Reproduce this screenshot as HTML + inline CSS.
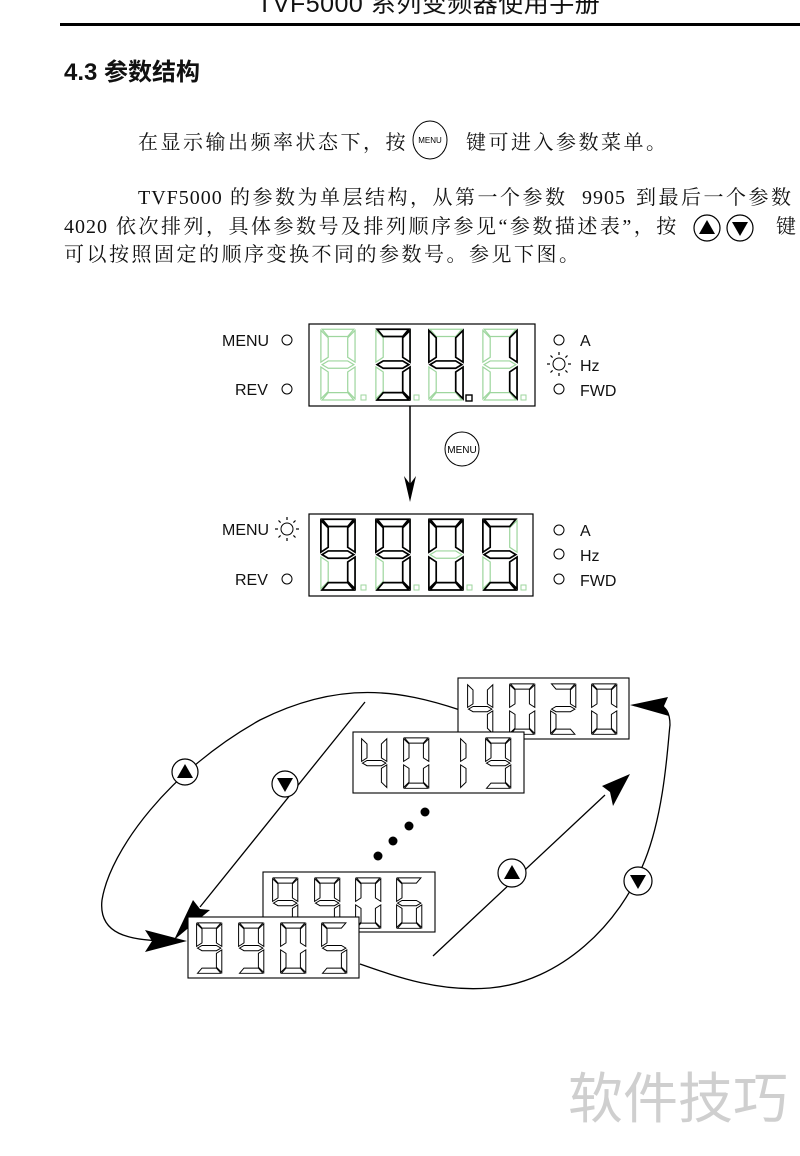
<!DOCTYPE html>
<html><head><meta charset="utf-8"><style>
html,body{margin:0;padding:0;background:#fff;}
body{width:800px;height:1156px;position:relative;overflow:hidden;font-family:"Liberation Serif","Noto Serif CJK SC",serif;color:#111;}
.t{position:absolute;white-space:nowrap;}
.p{font-size:20px;letter-spacing:2.5px;line-height:24px;}
</style></head><body>
<div class="t" style="left:257px;top:-16px;font-size:25px;letter-spacing:0.5px;font-family:'Liberation Sans','Noto Sans CJK SC',sans-serif;">TVF5000 系列变频器使用手册</div>
<div style="position:absolute;left:60px;top:23px;width:740px;height:3px;background:#000"></div>
<div class="t" style="left:64px;top:52px;font-size:24px;font-weight:bold;font-family:'Liberation Sans','Noto Sans CJK SC',sans-serif;">4.3 参数结构</div>

<div class="t p" style="left:138px;top:131px;">在显示输出频率状态下，按</div>
<div class="t p" style="left:466px;top:131px;">键可进入参数菜单。</div>

<div class="t p" style="left:138px;top:186px;letter-spacing:1px;">TVF5000</div>
<div class="t p" style="left:230px;top:186px;">的参数为单层结构，从第一个参数</div>
<div class="t p" style="left:582px;top:186px;letter-spacing:1px;">9905</div>
<div class="t p" style="left:636px;top:186px;">到最后一个参数</div>

<div class="t p" style="left:64px;top:215px;letter-spacing:1px;">4020</div>
<div class="t p" style="left:116px;top:215px;">依次排列，具体参数号及排列顺序参见“参数描述表”，按</div>
<div class="t p" style="left:776px;top:215px;">键</div>

<div class="t p" style="left:64px;top:243px;">可以按照固定的顺序变换不同的参数号。参见下图。</div>
<div class="t" style="left:568px;top:1054px;font-size:55px;color:#cfcfcf;font-family:'Liberation Sans','Noto Sans CJK SC',sans-serif;">软件技巧</div>

<svg width="800" height="1156" style="position:absolute;left:0;top:0" xmlns="http://www.w3.org/2000/svg">
<defs>
<polygon id="sa" points="5,1 31,1 26,7 10,7"/>
<polygon id="sb" points="32,2 32,28 29,26 26,24 26,8"/>
<polygon id="sf" points="4,2 10,8 10,24 4,28"/>
<polygon id="sg" points="5,30 10,27 26,27 31,30 26,33 10,33"/>
<polygon id="se" points="4,32 10,36 10,52 4,58"/>
<polygon id="sc" points="32,32 32,58 26,52 26,36"/>
<polygon id="sd" points="5,59 10,53 26,53 31,59"/>
<g id="d8"><use href="#sa"/><use href="#sb"/><use href="#sc"/><use href="#sd"/><use href="#se"/><use href="#sf"/><use href="#sg"/></g>
<g id="d9"><use href="#sa"/><use href="#sb"/><use href="#sc"/><use href="#sd"/><use href="#sf"/><use href="#sg"/></g>
<g id="d0"><use href="#sa"/><use href="#sb"/><use href="#sc"/><use href="#sd"/><use href="#se"/><use href="#sf"/></g>
<g id="d5"><use href="#sa"/><use href="#sf"/><use href="#sg"/><use href="#sc"/><use href="#sd"/></g>
<g id="d3"><use href="#sa"/><use href="#sb"/><use href="#sg"/><use href="#sc"/><use href="#sd"/></g>
<g id="d4"><use href="#sf"/><use href="#sg"/><use href="#sb"/><use href="#sc"/></g>
<g id="d1"><use href="#sb"/><use href="#sc"/></g>
<g id="d1l"><use href="#sf"/><use href="#se"/></g>
<g id="d2"><use href="#sa"/><use href="#sb"/><use href="#sg"/><use href="#se"/><use href="#sd"/></g>
<g id="d6"><use href="#sa"/><use href="#sf"/><use href="#sg"/><use href="#se"/><use href="#sc"/><use href="#sd"/></g>
<g id="sun"><circle r="6" fill="#fff" stroke="#000" stroke-width="1"/>
<g stroke="#000" stroke-width="1.2"><line x1="0" y1="-9" x2="0" y2="-12"/><line x1="0" y1="9" x2="0" y2="12"/><line x1="-9" y1="0" x2="-12" y2="0"/><line x1="9" y1="0" x2="12" y2="0"/><line x1="6.4" y1="6.4" x2="8.5" y2="8.5"/><line x1="-6.4" y1="6.4" x2="-8.5" y2="8.5"/><line x1="6.4" y1="-6.4" x2="8.5" y2="-8.5"/><line x1="-6.4" y1="-6.4" x2="-8.5" y2="-8.5"/></g></g>
</defs>

<!-- text MENU button -->
<ellipse cx="430" cy="140" rx="17" ry="19" fill="#fff" stroke="#000" stroke-width="1"/>
<text x="430" y="143" font-size="8" text-anchor="middle" font-family="Liberation Sans">MENU</text>
<circle cx="707" cy="228" r="13" fill="#fff" stroke="#000" stroke-width="1.2"/>
<polygon points="707,220 699,234 715,234" fill="#000"/>
<circle cx="740" cy="228" r="13" fill="#fff" stroke="#000" stroke-width="1.2"/>
<polygon points="740,236 732,222 748,222" fill="#000"/>

<g font-family="Liberation Sans" font-size="16" fill="#111">
<text x="222" y="346">MENU</text><circle cx="287" cy="340" r="5" fill="none" stroke="#000"/>
<text x="235" y="395">REV</text><circle cx="287" cy="389" r="5" fill="none" stroke="#000"/>
<circle cx="559" cy="340" r="5" fill="none" stroke="#000"/><text x="580" y="346">A</text>
<use href="#sun" x="559" y="364"/><text x="580" y="371">Hz</text>
<circle cx="559" cy="389" r="5" fill="none" stroke="#000"/><text x="580" y="396">FWD</text>
<text x="222" y="535">MENU</text><use href="#sun" x="287" y="529"/>
<text x="235" y="585">REV</text><circle cx="287" cy="579" r="5" fill="none" stroke="#000"/>
<circle cx="559" cy="530" r="5" fill="none" stroke="#000"/><text x="580" y="536">A</text>
<circle cx="559" cy="554" r="5" fill="none" stroke="#000"/><text x="580" y="561">Hz</text>
<circle cx="559" cy="579" r="5" fill="none" stroke="#000"/><text x="580" y="586">FWD</text>
</g>

<rect x="309" y="324" width="226" height="82" fill="#fff" stroke="#000" stroke-width="1.2"/>
<g fill="none" stroke="#9ed69e" stroke-width="1">
<use href="#d8" transform="translate(316,328) scale(1.22)"/>
<use href="#d8" transform="translate(371,328) scale(1.22)"/>
<use href="#d8" transform="translate(424,328) scale(1.22)"/>
<use href="#d8" transform="translate(478,328) scale(1.22)"/>
<rect x="361" y="395" width="5" height="5"/><rect x="414" y="395" width="5" height="5"/><rect x="521" y="395" width="5" height="5"/>
</g>
<g fill="#fff" stroke="#000" stroke-width="1.4">
<use href="#d3" transform="translate(371,328) scale(1.22)"/>
<use href="#d4" transform="translate(424,328) scale(1.22)"/>
<use href="#d1" transform="translate(478,328) scale(1.22)"/>
<rect x="466" y="395" width="6" height="6"/>
</g>

<line x1="410" y1="406" x2="410" y2="485" stroke="#000" stroke-width="1.5"/>
<polygon points="410,502 404,476 410,484 416,476" fill="#000"/>
<circle cx="462" cy="449" r="17" fill="#fff" stroke="#000" stroke-width="1"/>
<text x="462" y="453" font-size="10" text-anchor="middle" font-family="Liberation Sans">MENU</text>

<rect x="309" y="514" width="224" height="82" fill="#fff" stroke="#000" stroke-width="1.2"/>
<g fill="none" stroke="#9ed69e" stroke-width="1">
<use href="#d8" transform="translate(316,518) scale(1.22)"/>
<use href="#d8" transform="translate(371,518) scale(1.22)"/>
<use href="#d8" transform="translate(424,518) scale(1.22)"/>
<use href="#d8" transform="translate(478,518) scale(1.22)"/>
<rect x="361" y="585" width="5" height="5"/><rect x="414" y="585" width="5" height="5"/><rect x="467" y="585" width="5" height="5"/><rect x="521" y="585" width="5" height="5"/>
</g>
<g fill="#fff" stroke="#000" stroke-width="1.4">
<use href="#d9" transform="translate(316,518) scale(1.22)"/>
<use href="#d9" transform="translate(371,518) scale(1.22)"/>
<use href="#d0" transform="translate(424,518) scale(1.22)"/>
<use href="#d5" transform="translate(478,518) scale(1.22)"/>
</g>

<g fill="none" stroke="#000" stroke-width="1.3">
<path d="M460,710 C400,690 340,680 260,720 C170,770 110,850 102,900 C98,935 130,940 165,941"/>
<path d="M360,964 C400,978 440,992 490,988 C560,982 620,925 645,860 C665,810 668,740 670,725 C670,712 665,706 660,706"/>
<line x1="365" y1="702" x2="200" y2="907"/>
<line x1="433" y1="956" x2="605" y2="795"/>
</g>
<polygon points="187,941 145,930 152,941 145,952" fill="#000"/>
<polygon points="174,940 193,900 200,909 210,910" fill="#000"/>
<polygon points="630,774 602,786 610,792 613,806" fill="#000"/>
<polygon points="630,705 668,697 664,706 669,716" fill="#000"/>

<g fill="#fff" stroke="#000" stroke-width="1.2">
<circle cx="185" cy="772" r="13"/><circle cx="285" cy="784" r="13"/>
<circle cx="512" cy="873" r="14"/><circle cx="638" cy="881" r="14"/>
</g>
<polygon points="185,764 177,778 193,778" fill="#000"/>
<polygon points="285,792 277,778 293,778" fill="#000"/>
<polygon points="512,865 504,879 520,879" fill="#000"/>
<polygon points="638,889 630,875 646,875" fill="#000"/>

<g fill="#000"><circle cx="425" cy="812" r="4.5"/><circle cx="409" cy="826" r="4.5"/><circle cx="393" cy="841" r="4.5"/><circle cx="378" cy="856" r="4.5"/></g>

<g stroke="#000" stroke-width="1.1">
<rect x="458" y="678" width="171" height="61" fill="#fff"/>
<g fill="#fff">
<use href="#d4" transform="translate(464,683) scale(0.9,0.87)"/>
<use href="#d0" transform="translate(506,683) scale(0.9,0.87)"/>
<use href="#d2" transform="translate(547,683) scale(0.9,0.87)"/>
<use href="#d0" transform="translate(588,683) scale(0.9,0.87)"/>
</g>
<rect x="353" y="732" width="171" height="61" fill="#fff"/>
<g fill="#fff">
<use href="#d4" transform="translate(358,737) scale(0.9,0.87)"/>
<use href="#d0" transform="translate(400,737) scale(0.9,0.87)"/>
<use href="#d1l" transform="translate(457,737) scale(0.9,0.87)"/>
<use href="#d9" transform="translate(482,737) scale(0.9,0.87)"/>
</g>
<rect x="263" y="872" width="172" height="60" fill="#fff"/>
<g fill="#fff">
<use href="#d9" transform="translate(269,877) scale(0.9,0.87)"/>
<use href="#d9" transform="translate(311,877) scale(0.9,0.87)"/>
<use href="#d0" transform="translate(352,877) scale(0.9,0.87)"/>
<use href="#d6" transform="translate(393,877) scale(0.9,0.87)"/>
</g>
<rect x="188" y="917" width="171" height="61" fill="#fff"/>
<g fill="#fff">
<use href="#d9" transform="translate(193,922) scale(0.9,0.87)"/>
<use href="#d9" transform="translate(235,922) scale(0.9,0.87)"/>
<use href="#d0" transform="translate(277,922) scale(0.9,0.87)"/>
<use href="#d5" transform="translate(318,922) scale(0.9,0.87)"/>
</g>
</g>
</svg>
</body></html>
